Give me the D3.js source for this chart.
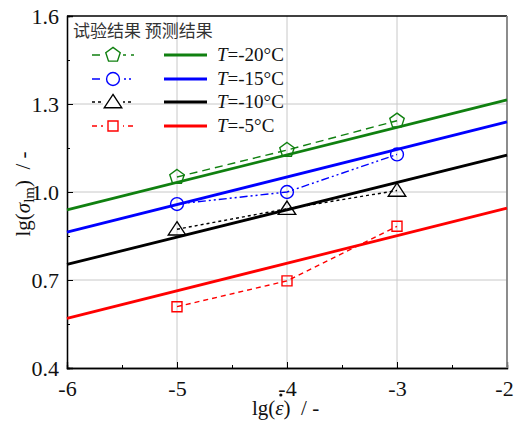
<!DOCTYPE html>
<html>
<head>
<meta charset="utf-8">
<script src="https://cdn.jsdelivr.net/npm/d3@7"></script>
<style>
body { margin: 0; background: #fff; }
svg { display: block; }
</style>
</head>
<body>
<svg width="515" height="422"></svg>
<script>
// test data (lg strain rate -> lg strength)
const xTest = [-5, -4, -3];
const testM20 = [1.051, 1.143, 1.243];
const testM15 = [0.959, 1.0, 1.128];
const testM10 = [0.873, 0.943, 1.005];
const testM5 = [0.609, 0.697, 0.883];

// prediction lines (endpoints)
const xPred = [-6, -2];
const predM20 = [0.939, 1.314];
const predM15 = [0.863, 1.239];
const predM10 = [0.753, 1.126];
const predM5 = [0.569, 0.945];

const labels = ['-20', '-15', '-10', '-5'];
const xTicks = [-6, -5, -4, -3, -2];
const yTicks = [0.4, 0.7, 1.0, 1.3, 1.6];

const serif = '"Liberation Serif", "Times New Roman", serif';

function whenLoaded(){
    const svg = d3.select('svg');
    const margin = {top:16, right:8, bottom:54, left:67};
    const width = +svg.attr('width');
    const height = +svg.attr('height');
    const innerWidth = width - margin.left - margin.right;
    const innerHeight = height - margin.top - margin.bottom;

    const xScale = d3.scaleLinear().domain([-6, -2]).range([0, innerWidth]);
    const yScale = d3.scaleLinear().domain([0.4, 1.6]).range([innerHeight, 0]);

    const g = svg.append('g').attr('transform', `translate(${margin.left},${margin.top})`);

    // grid
    g.selectAll('.vgrid').data(xTicks.slice(1, -1)).enter().append('line')
        .attr('x1', d => xScale(d)).attr('x2', d => xScale(d))
        .attr('y1', 0).attr('y2', innerHeight)
        .attr('stroke', '#c8c8c8').attr('stroke-width', 1);
    g.selectAll('.hgrid').data(yTicks.slice(1, -1)).enter().append('line')
        .attr('y1', d => yScale(d)).attr('y2', d => yScale(d))
        .attr('x1', 0).attr('x2', innerWidth)
        .attr('stroke', '#c8c8c8').attr('stroke-width', 1);

    // axes
    const xAxis = d3.axisBottom(xScale).tickValues(xTicks).tickSize(-6).tickPadding(12)
        .tickFormat(d => String(d));
    const xAxisG = g.append('g').attr('transform', `translate(0,${innerHeight})`).call(xAxis);
    const xMinor = d3.axisBottom(xScale).tickValues([-5.5, -4.5, -3.5, -2.5]).tickSize(-3).tickFormat('');
    g.append('g').attr('transform', `translate(0,${innerHeight})`).call(xMinor);

    const yAxis = d3.axisLeft(yScale).tickValues(yTicks).tickSize(-6).tickPadding(8)
        .tickFormat(d3.format('.1f'));
    g.append('g').call(yAxis);
    const yMinor = d3.axisLeft(yScale).tickValues([0.55, 0.85, 1.15, 1.45]).tickSize(-3).tickFormat('');
    g.append('g').call(yMinor);

    g.selectAll('.domain').attr('stroke', '#000').attr('stroke-width', 1.3);
    g.selectAll('.tick line').attr('stroke', '#000');
    g.selectAll('.tick text')
        .style('font-family', serif).style('font-size', '22px').attr('fill', '#111');
    xAxisG.selectAll('.tick text').attr('dy', '0.72em')
        .attr('x', d => d === -2 ? -3 : 0);

    // frame (right edge greyish as in the source)
    g.append('line').attr('x1', 0).attr('x2', innerWidth).attr('y1', 0).attr('y2', 0)
        .attr('stroke', '#000').attr('stroke-width', 1.3);
    g.append('line').attr('x1', innerWidth).attr('x2', innerWidth).attr('y1', 0).attr('y2', innerHeight)
        .attr('stroke', '#808080').attr('stroke-width', 1.8);

    const series = [
        {test: testM20, pred: predM20, color: '#108010', dash: '8,5', marker: 'pentagon'},
        {test: testM15, pred: predM15, color: '#0000ff', dash: '8,3,2,3,2,3', marker: 'circle'},
        {test: testM10, pred: predM10, color: '#000000', dash: '3,3', marker: 'triangle'},
        {test: testM5, pred: predM5, color: '#ff0000', dash: '5,4', marker: 'square'}
    ];

    const line = d3.line().x(d => xScale(d[0])).y(d => yScale(d[1]));

    const symbolPath = (type, size) => {
        if (type === 'circle') return d3.symbol(d3.symbolCircle, size)();
        if (type === 'square') return d3.symbol(d3.symbolSquare, size)();
        const r = Math.sqrt(size) * 0.62;
        if (type === 'triangle') {
            return `M0,${-r}L${r*1.15},${r*0.75}L${-r*1.15},${r*0.75}Z`;
        }
        const pts = d3.range(5).map(i => {
            const a = -Math.PI / 2 + i * 2 * Math.PI / 5;
            return [r * Math.cos(a), r * Math.sin(a)];
        });
        return 'M' + pts.map(p => p.join(',')).join('L') + 'Z';
    };
    const sizes = {circle: 130, square: 100, triangle: 150, pentagon: 150};

    // prediction lines
    series.forEach(s => {
        g.append('path').attr('d', line(xPred.map((x, i) => [x, s.pred[i]])))
            .attr('fill', 'none').attr('stroke', s.color).attr('stroke-width', 2.8);
    });

    // test lines and markers
    series.forEach(s => {
        const pts = xTest.map((x, i) => [x, s.test[i]]);
        g.append('path').attr('d', line(pts))
            .attr('fill', 'none').attr('stroke', s.color).attr('stroke-width', 1.4)
            .attr('stroke-dasharray', s.dash);
        g.selectAll(null).data(pts).enter().append('path')
            .attr('d', symbolPath(s.marker, sizes[s.marker]))
            .attr('transform', d => `translate(${xScale(d[0])},${yScale(d[1])})`)
            .attr('fill', 'none').attr('stroke', s.color).attr('stroke-width', 1.4);
    });

    // legend
    const lg = svg.append('g');
    lg.append('text').attr('x', 73).attr('y', 37)
        .style('font-family', '"Noto Sans CJK SC", sans-serif').style('font-size', '17px')
        .attr('fill', '#333').text('试验结果 预测结果');
    const rowY = [55, 79, 102, 126];
    series.forEach((s, i) => {
        const y = rowY[i];
        lg.append('line').attr('x1', 92).attr('x2', 134).attr('y1', y).attr('y2', y)
            .attr('stroke', s.color).attr('stroke-width', 1.4).attr('stroke-dasharray', s.dash);
        lg.append('rect').attr('x', 103).attr('y', y - 10).attr('width', 20).attr('height', 20).attr('fill', '#fff');
        lg.append('path').attr('d', symbolPath(s.marker, sizes[s.marker]))
            .attr('transform', `translate(113,${y})`)
            .attr('fill', 'none').attr('stroke', s.color).attr('stroke-width', 1.4);
        lg.append('line').attr('x1', 164).attr('x2', 207).attr('y1', y).attr('y2', y)
            .attr('stroke', s.color).attr('stroke-width', 2.8);
        const t = lg.append('text').attr('x', 217).attr('y', y + 6)
            .style('font-family', serif).style('font-size', '19px').attr('fill', '#111');
        t.append('tspan').style('font-style', 'italic').text('T');
        t.append('tspan').text('=' + labels[i] + '°C');
    });

    // x axis label
    const xl = svg.append('text').attr('x', 252).attr('y', 415)
        .attr('xml:space', 'preserve')
        .style('font-family', serif).style('font-size', '21px').attr('fill', '#111');
    xl.append('tspan').text('lg(');
    const eps = xl.append('tspan').style('font-style', 'italic').text('ε');
    xl.append('tspan').text(')  / -');
    const eb = eps.node().getBBox();
    svg.append('circle').attr('cx', eb.x + eb.width / 2 + 1).attr('cy', 395).attr('r', 1.6).attr('fill', '#111');

    // y axis label
    const yl = svg.append('text').attr('transform', `translate(30,${margin.top + innerHeight / 2 + 2}) rotate(-90)`)
        .attr('text-anchor', 'middle').attr('xml:space', 'preserve')
        .style('font-family', serif).style('font-size', '21px').attr('fill', '#111');
    yl.append('tspan').text('lg(');
    yl.append('tspan').style('font-style', 'italic').text('σ');
    yl.append('tspan').attr('dy', 4).style('font-size', '15px').text('lm');
    yl.append('tspan').attr('dy', -4).text(')  / -');
}

window.onload = whenLoaded;
</script>
</body>
</html>
